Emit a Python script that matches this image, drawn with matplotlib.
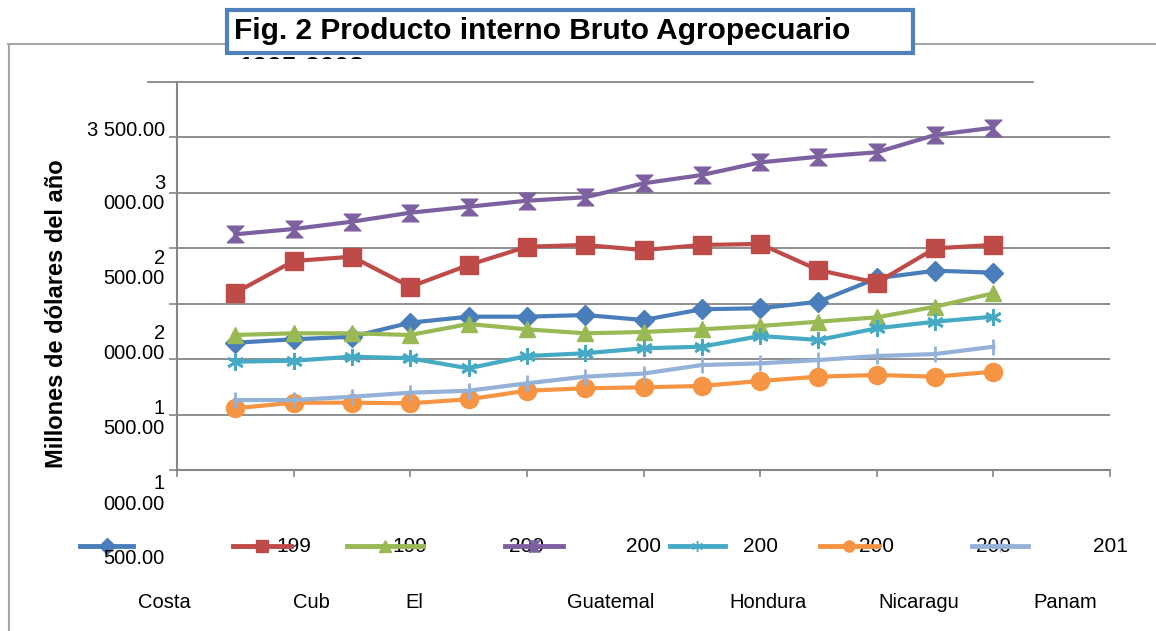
import matplotlib
matplotlib.use('Agg')
import matplotlib.pyplot as plt
from matplotlib.lines import Line2D
from matplotlib.patches import Rectangle
from matplotlib.transforms import Bbox

plt.rcParams['font.family'] = ['Liberation Sans', 'DejaVu Sans']

W, H = 1156, 631

# values (millones de dolares)
years = list(range(1995, 2009))
countries = ['Costa', 'Cub', 'El', 'Guatemal', 'Hondura', 'Nicaragu', 'Panam']
costa_rica = [1648, 1679, 1702, 1829, 1883, 1883, 1898, 1853, 1950, 1959, 2018, 2229, 2298, 2280]
cuba = [2099, 2385, 2424, 2153, 2349, 2514, 2530, 2484, 2530, 2539, 2304, 2189, 2500, 2530]
el_salvador = [1718, 1733, 1733, 1718, 1817, 1769, 1733, 1745, 1769, 1799, 1838, 1877, 1973, 2094]
guatemala = [2626, 2674, 2740, 2821, 2875, 2929, 2960, 3086, 3161, 3275, 3326, 3366, 3522, 3588]
honduras = [1477, 1486, 1522, 1508, 1417, 1528, 1553, 1598, 1612, 1709, 1673, 1778, 1838, 1883]
nicaragua = [1057, 1107, 1107, 1102, 1138, 1215, 1237, 1246, 1258, 1303, 1342, 1357, 1342, 1387]
panama = [1131, 1131, 1161, 1197, 1215, 1282, 1342, 1370, 1447, 1462, 1492, 1528, 1546, 1612]

y_ticks = [500, 1000, 1500, 2000, 2500, 3000, 3500]
y_tick_text = ['500.00', '1\n000.00', '1\n500.00', '2\n000.00', '2\n500.00', '3\n000.00', '3 500.00']
x_ticks = [1994, 1996, 1998, 2000, 2002, 2004, 2006, 2008, 2010]
x_tick_text = ['', '199', '199', '200', '200', '200', '200', '200', '201']

series = [costa_rica, cuba, el_salvador, guatemala, honduras, nicaragua, panama]
colors = ['#4A7EBB', '#BE4B48', '#98B954', '#7D60A0', '#46AAC5', '#F59443', '#94B1D8']
hourglass = [(-1, -1), (1, -1), (-1, 1), (1, 1), (-1, -1)]
markers = ['D', 's', '^', hourglass, (6, 2, 0), 'o', '|']
msizes = [10, 13, 12, 12, 12, 13, 12]


def px(x, y):
    return x / W, 1 - y / H


fig = plt.figure(figsize=(W / 100, H / 100), dpi=100)
fig.patch.set_facecolor('white')

# outer frame of the chart object
fig.add_artist(Line2D([px(8, 0)[0], 1.0], [px(0, 44)[1]] * 2, color='#a6a6a6', lw=1.5))
fig.add_artist(Line2D([px(9, 0)[0]] * 2, [px(0, 44)[1], 0.0], color='#a6a6a6', lw=1.5))

ax = fig.add_axes([177 / W, 1 - 470 / H, (1110 - 177) / W, (470 - 82) / H])
ax.set_xlim(1994, 2010)
ax.set_ylim(500, 4000)

for vals, c, m, ms in zip(series, colors, markers, msizes):
    ax.plot(years, vals, color=c, lw=3, marker=m, ms=ms, mfc=c, mec=c,
            mew=2 if m in ['|', (6, 2, 0)] else 1, clip_on=False, zorder=3)

ax.set_yticks(y_ticks)
ax.set_yticklabels([])
ax.set_xticks(x_ticks)
ax.set_xticklabels(x_tick_text, fontsize=15)
ax.tick_params(axis='y', length=6, width=1.2, color='#868686')
ax.tick_params(axis='x', length=5, width=1.2, color='#868686', direction='out', pad=43)
ax.grid(axis='y', color='#868686', lw=1.3)
ax.set_axisbelow(True)
for s in ['top', 'right']:
    ax.spines[s].set_visible(False)
for s in ['left', 'bottom']:
    ax.spines[s].set_color('#868686')
    ax.spines[s].set_linewidth(1.5)

# top border line of plot area
fig.add_artist(Line2D([px(148, 0)[0], px(1033, 0)[0]], [px(0, 82)[1]] * 2, color='#868686', lw=1.3))

# y tick labels (misplaced as in the original)
label_tops = [549, 474, 399, 324, 249, 174, 121]
for txt, top in zip(y_tick_text, label_tops):
    x, y = px(165, top)
    fig.text(x, y, txt, ha='right', va='top', fontsize=14.5, linespacing=1.1)

fig.text(*px(57, 314), 'Millones de dólares del año', rotation=90, ha='center', va='center',
         fontsize=17, fontweight='bold')

# legend samples and country names
leg_x = [(80, 133), (233, 291), (347, 423), (505, 563), (670, 725), (820, 878), (972, 1028)]
name_x = [164, 311, 414, 611, 768, 919, 1065]
for (x0, x1), c, m, name, nx in zip(leg_x, colors, markers, countries, name_x):
    y = px(0, 546)[1]
    fig.add_artist(Line2D([x0 / W, x1 / W], [y, y], color=c, lw=3.5, zorder=1))
    fig.add_artist(Line2D([(x0 + x1) / 2 / W], [y], color=c, marker=m, ms=8, mfc=c, mec=c, lw=0, zorder=1))
    fig.text(*px(nx, 603), name, ha='center', va='center', fontsize=14.5)

# title box
x0, y0 = px(227, 53)
x1, y1 = px(913, 10)
fig.add_artist(Rectangle((x0, y0), x1 - x0, y1 - y0, facecolor='white', edgecolor='#4F81BD',
                         lw=3, transform=fig.transFigure, zorder=5))
fig.text(*px(234, 31), 'Fig. 2 Producto interno Bruto Agropecuario', ha='left', va='center',
         fontsize=21.5, fontweight='bold', zorder=6)
sub = fig.text(*px(238, 68), '1995-2008', ha='left', va='center', fontsize=19,
               fontweight='bold', zorder=6)
sub.set_clip_box(Bbox.from_extents(0, H - 59, W, H))
sub.set_clip_on(True)

fig.savefig('out.png', dpi=100)
